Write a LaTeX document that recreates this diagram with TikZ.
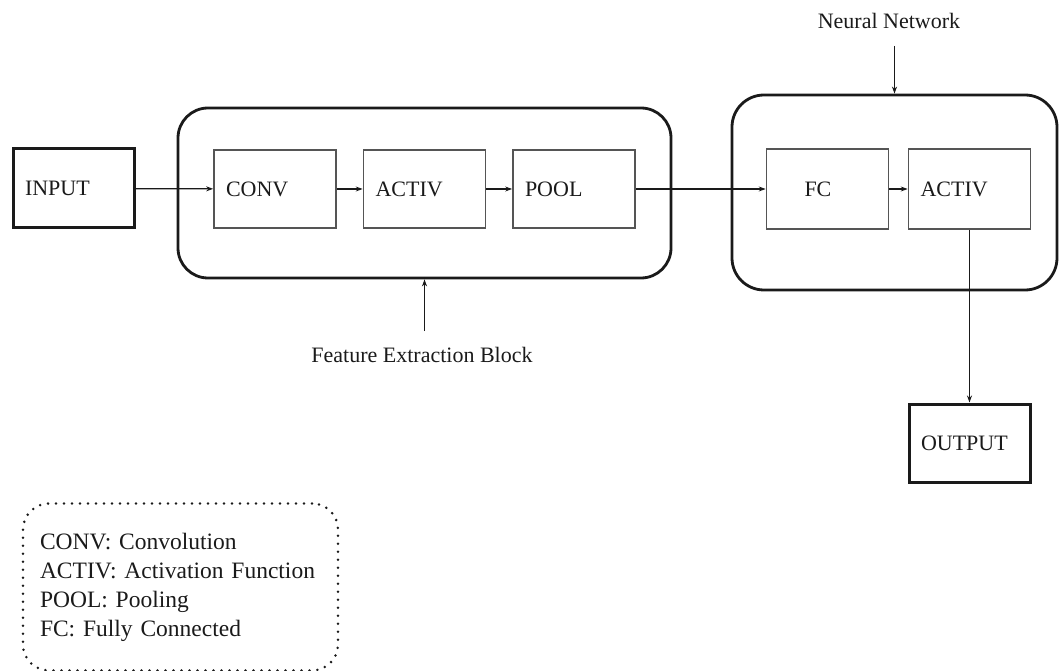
\documentclass[tikz,border=0pt]{standalone}
\usepackage{fontspec}
\setmainfont{Liberation Serif}
\usetikzlibrary{arrows.meta,calc}
\definecolor{ink}{HTML}{1A1A1A}
\definecolor{thin}{HTML}{555555}
\begin{document}
\begin{tikzpicture}[x=1pt,y=-1pt,
  every node/.style={text=ink},
  txt/.style={font=\fontsize{22}{29}\selectfont},
  outerblk/.style={draw=ink, line width=2.8pt, rounded corners=30pt},
  iobox/.style={draw=ink, line width=3pt, minimum width=121pt, minimum height=79pt,
    inner xsep=12pt, text width=97pt, align=left, txt},
  inbox/.style={draw=thin, line width=1.7pt, minimum width=122pt, minimum height=78pt,
    inner xsep=12pt, text width=98pt, align=left, txt},
  arr/.style={draw=ink, line width=1.3pt, -{Stealth[length=7pt,width=5pt]}},
  lbl/.style={inner sep=0pt, txt},
  legendbox/.style={draw=ink, line width=2.8pt, dash pattern=on 0pt off 8pt, line cap=round,
    rounded corners=26pt, minimum height=167pt, inner xsep=17pt, text width=281pt,
    align=left, font=\fontsize{23.5}{29}\selectfont}
]
\useasboundingbox (0,0) rectangle (1061,671);

% outer blocks
\node[outerblk, minimum width=493pt, minimum height=170pt] (fe) at (424.5,193) {};
\node[outerblk, rounded corners=32pt, minimum width=325pt, minimum height=195pt] (nn) at (894.5,192.5) {};

% boxes
\node[iobox] (input) at (73.5,188.5) {INPUT};
\node[inbox] (conv) at (275,189) {CONV};
\node[inbox] (activ) at (424.5,189) {ACTIV};
\node[inbox] (pool) at (574,189) {POOL};
\node[inbox, minimum height=80pt] (fc) at (827.5,189) {\hspace*{26pt}FC};
\node[inbox, minimum height=80pt] (act2) at (969.5,189) {ACTIV};
\node[iobox, minimum height=78pt] (output) at (969.5,443) {OUTPUT};

% arrows
\draw[arr] (input) -- (conv);
\draw[arr] (conv) -- (activ);
\draw[arr] (activ) -- (pool);
\draw[arr] (pool) -- (fc);
\draw[arr] (fc) -- (act2);
\draw[arr] (act2) -- (output);

% labels
\node[lbl] (nnl) at (889,21) {Neural Network};
\draw[arr, shorten <=17pt] (nn.north |- nnl.south) -- (nn.north);
\node[lbl] (fel) at (422,355) {Feature Extraction Block};
\draw[arr, shorten <=16pt] (fe.south |- fel.north) -- (fe.south);

% legend
\node[legendbox] (legend) at (180.5,587) {CONV: Convolution\\ACTIV: Activation Function\\POOL: Pooling\\FC: Fully Connected};
\end{tikzpicture}
\end{document}
